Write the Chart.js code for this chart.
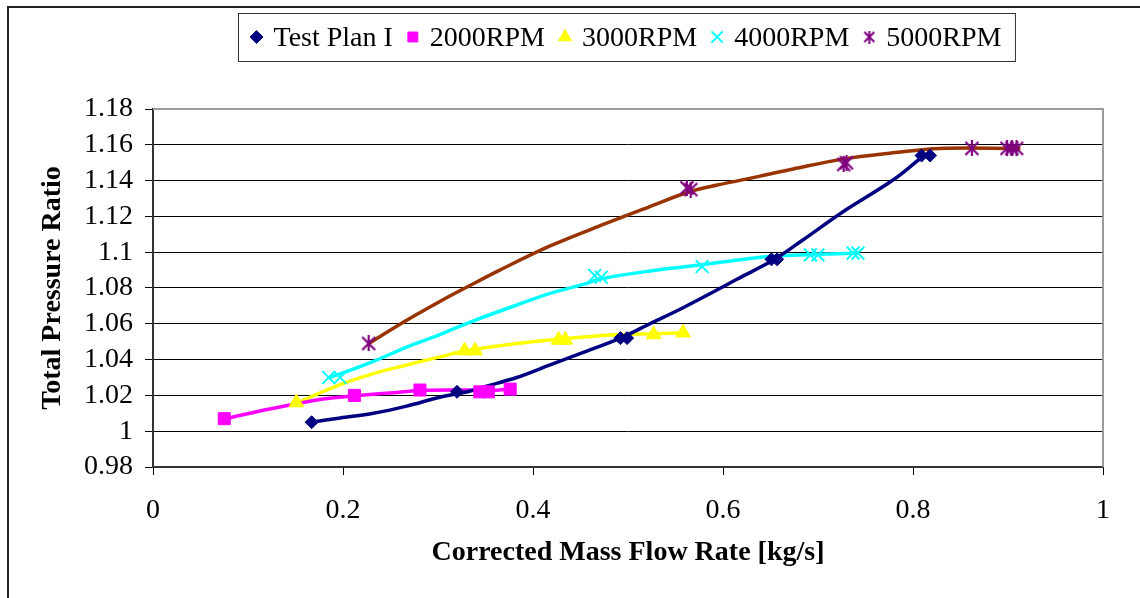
<!DOCTYPE html>
<html>
<head>
<meta charset="utf-8">
<script src="https://cdn.jsdelivr.net/npm/chart.js@4.4.1/dist/chart.umd.min.js"></script>
<style>
  html, body { margin: 0; padding: 0; background: #fff; }
  #wrap { width: 1140px; height: 598px; position: relative; }
</style>
</head>
<body>
<div id="wrap"><canvas id="c" width="1140" height="598"></canvas></div>
<script>
// Measured points (markers) per test series
const seriesNames = ['Test Plan I', '2000RPM', '3000RPM', '4000RPM', '5000RPM'];

const testPlanX = [0.167, 0.320, 0.492, 0.499, 0.651, 0.657, 0.809, 0.818];
const testPlanY = [1.005, 1.022, 1.052, 1.052, 1.096, 1.096, 1.154, 1.154];

const rpm2000X = [0.075, 0.212, 0.281, 0.344, 0.353, 0.376];
const rpm2000Y = [1.007, 1.020, 1.023, 1.022, 1.022, 1.0235];

const rpm3000X = [0.151, 0.328, 0.339, 0.427, 0.434, 0.527, 0.558];
const rpm3000Y = [1.016, 1.045, 1.045, 1.051, 1.051, 1.054, 1.055];

const rpm4000X = [0.185, 0.197, 0.465, 0.472, 0.578, 0.692, 0.700, 0.737, 0.742];
const rpm4000Y = [1.030, 1.030, 1.087, 1.086, 1.092, 1.0985, 1.0985, 1.0995, 1.0995];

const rpm5000X = [0.227, 0.562, 0.566, 0.727, 0.730, 0.862, 0.899, 0.904, 0.909];
const rpm5000Y = [1.049, 1.136, 1.135, 1.149, 1.150, 1.158, 1.158, 1.158, 1.158];

// Fitted characteristic curves
const curveTestPlanX = [0.167, 0.197, 0.232, 0.267, 0.302, 0.334, 0.350, 0.383, 0.418, 0.453, 0.492, 0.523, 0.558, 0.594, 0.615, 0.653, 0.684, 0.726, 0.779, 0.812, 0.818];
const curveTestPlanY = [1.005, 1.0074, 1.010, 1.014, 1.019, 1.0225, 1.025, 1.030, 1.037, 1.044, 1.052, 1.060, 1.069, 1.079, 1.085, 1.0956, 1.1068, 1.1225, 1.1403, 1.154, 1.155];

const curve2000X = [0.075, 0.109, 0.144, 0.179, 0.210, 0.249, 0.281, 0.334, 0.350, 0.376];
const curve2000Y = [1.0068, 1.0109, 1.0146, 1.0180, 1.0197, 1.0213, 1.0228, 1.023, 1.0225, 1.0235];

const curve3000X = [0.151, 0.197, 0.232, 0.267, 0.302, 0.328, 0.383, 0.430, 0.481, 0.527, 0.560];
const curve3000Y = [1.0157, 1.026, 1.0322, 1.037, 1.0415, 1.0448, 1.049, 1.0515, 1.0538, 1.0545, 1.055];

const curve4000X = [0.185, 0.197, 0.232, 0.267, 0.302, 0.334, 0.383, 0.418, 0.453, 0.470, 0.523, 0.578, 0.628, 0.660, 0.700, 0.742];
const curve4000Y = [1.030, 1.032, 1.039, 1.047, 1.054, 1.061, 1.0705, 1.077, 1.082, 1.085, 1.0895, 1.093, 1.0965, 1.098, 1.0988, 1.0995];

const curve5000X = [0.227, 0.267, 0.302, 0.334, 0.365, 0.418, 0.474, 0.523, 0.563, 0.594, 0.639, 0.674, 0.726, 0.779, 0.828, 0.913];
const curve5000Y = [1.049, 1.062, 1.0725, 1.0815, 1.090, 1.1035, 1.1155, 1.1255, 1.1335, 1.1375, 1.1425, 1.1465, 1.152, 1.1555, 1.158, 1.158];

// Axis ticks
const xTickValues = [0, 0.2, 0.4, 0.6, 0.8, 1];
const xTickLabels = ['0', '0.2', '0.4', '0.6', '0.8', '1'];
const yTickValues = [0.98, 1, 1.02, 1.04, 1.06, 1.08, 1.1, 1.12, 1.14, 1.16, 1.18];
const yTickLabels = ['0.98', '1', '1.02', '1.04', '1.06', '1.08', '1.1', '1.12', '1.14', '1.16', '1.18'];

const FONT = '"Liberation Serif", "Times New Roman", serif';

function pts(xs, ys) { return xs.map((x, i) => ({ x: x, y: ys[i] })); }

// Asterisk marker (X with a vertical stroke)
function asterisk(size, color, lw) {
  const c = document.createElement('canvas');
  c.width = size; c.height = size;
  const g = c.getContext('2d');
  g.strokeStyle = color; g.lineWidth = lw; g.lineCap = 'butt';
  const m = 1.5, s = size;
  g.beginPath();
  g.moveTo(m, m); g.lineTo(s - m, s - m);
  g.moveTo(s - m, m); g.lineTo(m, s - m);
  g.moveTo(s / 2, 0); g.lineTo(s / 2, s);
  g.stroke();
  return c;
}
const starBig = asterisk(16, '#800080', 2.2);
const starSmall = asterisk(13, '#800080', 2);

const markerSet = (label, xs, ys, color, style, radius, extra) => Object.assign({
  label: label, data: pts(xs, ys), showLine: false, inLegend: true,
  pointStyle: style, pointRadius: radius, pointHoverRadius: radius,
  backgroundColor: color, borderColor: color, pointBorderWidth: 1
}, extra || {});

const curveSet = (xs, ys, color) => ({
  label: '', data: pts(xs, ys), showLine: true, inLegend: false,
  borderColor: color, borderWidth: 3.5, pointRadius: 0, pointHoverRadius: 0,
  tension: 0.35, fill: false
});

const datasets = [
  markerSet(seriesNames[0], testPlanX, testPlanY, '#000080', 'rectRot', 6.5, { legendRadius: 6.5 }),
  markerSet(seriesNames[1], rpm2000X, rpm2000Y, '#FF00FF', 'rect', 8.5, { legendRadius: 7 }),
  markerSet(seriesNames[2], rpm3000X, rpm3000Y, '#FFFF00', 'triangle', 8.5, { legendRadius: 7.5 }),
  markerSet(seriesNames[3], rpm4000X, rpm4000Y, '#00FFFF', 'crossRot', 9, { pointBorderWidth: 2, legendRadius: 8, legendBorder: 2 }),
  markerSet(seriesNames[4], rpm5000X, rpm5000Y, '#800080', starBig, 8, { legendStyle: starSmall }),
  curveSet(curveTestPlanX, curveTestPlanY, '#000080'),
  curveSet(curve2000X, curve2000Y, '#FF00FF'),
  curveSet(curve3000X, curve3000Y, '#FFFF00'),
  curveSet(curve4000X, curve4000Y, '#00FFFF'),
  curveSet(curve5000X, curve5000Y, '#993300')
];

// White page with the outer frame
const framePlugin = {
  id: 'frame',
  beforeDraw(chart) {
    const ctx = chart.ctx;
    ctx.save();
    ctx.fillStyle = '#fff';
    ctx.fillRect(0, 0, chart.width, chart.height);
    ctx.strokeStyle = '#222';
    ctx.lineWidth = 2;
    ctx.strokeRect(8, 7, chart.width + 20, chart.height + 20);
    ctx.restore();
  }
};

// Grey top and right edges of the plot area
const plotEdgePlugin = {
  id: 'plotEdge',
  beforeDatasetsDraw(chart) {
    const { ctx, chartArea: a } = chart;
    ctx.save();
    ctx.strokeStyle = '#9a9a9a';
    ctx.lineWidth = 2;
    ctx.beginPath();
    ctx.moveTo(a.left, a.top);
    ctx.lineTo(a.right, a.top);
    ctx.lineTo(a.right, a.bottom);
    ctx.stroke();
    ctx.restore();
  }
};

// Boxed legend above the plot, centred on the plot area
const boxLegendPlugin = {
  id: 'boxLegend',
  afterDraw(chart) {
    const { ctx, chartArea: a } = chart;
    const items = chart.data.datasets.filter(d => d.inLegend);
    const padL = 18, padR = 14, markerToText = 17, between = 20;
    ctx.save();
    ctx.font = '28px ' + FONT;
    let W = padL + padR;
    items.forEach((d, i) => {
      W += markerToText + ctx.measureText(d.label).width + (i < items.length - 1 ? between : 0);
    });
    const left = Math.round((a.left + a.right) / 2 - W / 2) - 2 + 0.5;
    const top = 13.5, h = 48;
    ctx.strokeStyle = '#333';
    ctx.lineWidth = 1;
    ctx.strokeRect(left, top, W, h);
    let x = left + padL;
    const cy = 37;
    items.forEach((d) => {
      const opts = {
        pointStyle: d.legendStyle || d.pointStyle,
        radius: d.legendRadius || 7,
        rotation: 0,
        borderWidth: d.legendBorder || 1
      };
      ctx.fillStyle = d.backgroundColor;
      ctx.strokeStyle = d.borderColor;
      ctx.lineWidth = opts.borderWidth;
      Chart.helpers.drawPoint(ctx, opts, x, cy);
      ctx.fillStyle = '#000';
      ctx.textBaseline = 'alphabetic';
      ctx.textAlign = 'left';
      const tx = x + markerToText;
      ctx.fillText(d.label, tx, 46);
      x = tx + ctx.measureText(d.label).width + between;
    });
    ctx.restore();
  }
};

new Chart(document.getElementById('c'), {
  type: 'scatter',
  data: { datasets: datasets },
  options: {
    responsive: false,
    devicePixelRatio: 1,
    animation: false,
    layout: { padding: { left: 0, right: 37, top: 109, bottom: 0 } },
    plugins: {
      legend: { display: false },
      tooltip: { enabled: false }
    },
    scales: {
      x: {
        type: 'linear',
        min: 0, max: 1,
        afterFit(scale) { scale.height = 131; },
        afterBuildTicks(scale) { scale.ticks = xTickValues.map(v => ({ value: v })); },
        ticks: {
          color: '#000',
          font: { family: FONT, size: 28 },
          padding: 19,
          maxRotation: 0,
          autoSkip: false,
          callback: (v, i) => xTickLabels[i]
        },
        grid: { drawOnChartArea: false, color: '#000', lineWidth: 1, tickLength: 8 },
        border: { color: '#333', width: 2 },
        title: {
          display: true,
          text: 'Corrected Mass Flow Rate [kg/s]',
          color: '#000',
          font: { family: FONT, size: 28, weight: 'bold' },
          padding: { top: 0, bottom: 28 }
        }
      },
      y: {
        type: 'linear',
        min: 0.98, max: 1.18,
        afterFit(scale) { scale.width = 153; },
        afterBuildTicks(scale) { scale.ticks = yTickValues.map(v => ({ value: v })); },
        ticks: {
          color: '#000',
          font: { family: FONT, size: 28 },
          padding: 12,
          autoSkip: false,
          callback: (v, i) => yTickLabels[i]
        },
        grid: { color: '#000', lineWidth: 1, tickLength: 8 },
        border: { color: '#333', width: 2 },
        title: {
          display: true,
          text: 'Total Pressure Ratio',
          color: '#000',
          font: { family: FONT, size: 28, weight: 'bold' },
          padding: { top: 36, bottom: 0 }
        }
      }
    }
  },
  plugins: [framePlugin, plotEdgePlugin, boxLegendPlugin]
});
</script>
</body>
</html>
